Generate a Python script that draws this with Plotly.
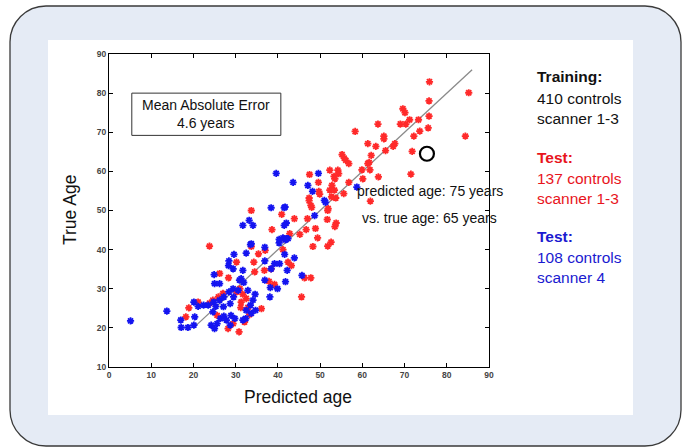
import plotly.graph_objects as go

# ---------------- data ----------------
red_x = [75.9, 85.2, 75.8, 69.6, 70.1, 71.2, 73.3, 75.8, 69.0, 70.3, 73.6, 75.6, 72.2, 84.4, 71.8,
         63.7, 58.3, 65.1, 65.1, 61.3, 63.2, 67.3, 67.7, 65.5, 62.1, 61.6, 61.3, 59.9, 61.8, 63.8,
         60.1, 55.2, 55.7, 56.1, 56.8, 52.3, 54.2, 54.4, 53.3, 53.5, 56.8, 52.8, 52.3, 53.4, 55.6,
         53.7, 47.5, 49.6, 49.9, 47.4, 47.8, 51.9, 61.9, 71.5, 33.7, 49.7, 52.7,
         40.9, 48.0, 51.8, 47.4, 38.6, 43.9, 47.0, 46.7, 48.9, 53.8, 53.5, 51.7, 45.2, 42.8, 41.5,
         48.3, 51.8, 52.6, 49.4, 41.2, 23.8, 33.7, 35.4, 37.0, 30.2, 34.3, 36.8, 38.4, 34.5, 42.4,
         43.2, 26.2, 28.3, 37.9, 39.2, 46.3, 47.8, 45.6, 31.0, 30.2, 31.7, 32.5, 31.3, 24.6, 25.9,
         27.0, 21.1, 18.9, 18.2, 31.2, 32.9, 36.1, 33.3, 32.1, 29.4, 28.2, 30.8, 25.6, 23.8]
red_y = [82.9, 80.1, 78.0, 76.0, 75.0, 73.2, 73.2, 74.1, 72.1, 72.1, 70.3, 71.1, 69.0, 69.0, 65.1,
         72.1, 70.2, 69.0, 68.3, 67.1, 66.4, 66.4, 67.1, 65.3, 64.1, 62.3, 62.0, 60.4, 60.4, 58.6,
         58.1, 64.3, 63.4, 62.8, 62.0, 60.3, 60.3, 59.4, 58.7, 58.1, 57.2, 56.4, 55.2, 55.2, 54.3,
         53.2, 59.2, 57.2, 54.2, 53.2, 51.3, 50.5, 52.4, 59.3, 50.0, 54.9, 53.5,
         49.0, 50.8, 50.0, 52.5, 45.1, 47.9, 47.9, 45.1, 45.4, 46.8, 45.9, 47.7, 43.9, 44.1, 42.8,
         40.8, 40.9, 41.9, 43.0, 40.0, 40.9, 40.8, 38.9, 39.8, 36.8, 36.8, 34.7, 35.1, 34.3, 36.8,
         35.9, 33.9, 32.8, 31.9, 31.1, 32.8, 32.8, 27.9, 30.0, 29.2, 28.6, 27.5, 26.6, 27.1, 27.9,
         28.8, 26.6, 25.1, 22.8, 25.2, 25.2, 24.9, 23.4, 21.5, 21.1, 19.8, 19.0, 23.2, 26.3]

blue_x = [39.6, 49.6, 43.6, 47.1, 48.2, 51.0, 58.7, 38.4, 41.7,
          5.1, 13.7, 17.0, 17.1, 18.7, 20.1, 20.3, 20.1, 21.1, 22.4, 23.5, 24.8, 25.3, 24.6, 24.2,
          25.0, 25.6, 26.4, 27.2, 27.8, 28.9, 29.8, 28.7, 26.2, 27.1, 28.7, 27.2, 28.4, 29.4, 30.6,
          29.5, 25.0, 26.2, 24.9, 28.3, 28.4, 29.4, 29.6, 31.7, 30.9, 31.9, 31.3, 32.5, 33.5, 33.7,
          31.7, 33.2, 34.1, 32.9, 34.1, 34.6, 33.5, 32.5, 33.7, 32.4, 31.7, 34.7, 38.1, 36.9, 36.9,
          38.2, 39.9, 38.4, 39.2, 40.4, 40.3, 41.8, 42.0, 41.5, 41.5, 41.6, 42.2, 41.8, 42.4, 43.9,
          45.7, 48.7, 51.3, 36.9, 40.3, 41.2, 42.0]
blue_y = [59.5, 59.5, 57.2, 56.4, 54.9, 52.6, 56.0, 50.7, 50.9,
          21.8, 24.3, 22.0, 20.1, 20.1, 20.7, 22.8, 26.6, 25.5, 25.8, 25.8, 26.6, 25.5, 24.1, 20.7,
          19.8, 21.1, 22.4, 23.0, 22.0, 23.2, 22.4, 20.7, 27.1, 25.4, 26.2, 27.9, 29.2, 30.0, 29.6,
          27.9, 31.3, 31.3, 33.6, 35.9, 37.1, 35.1, 38.8, 34.7, 32.2, 31.6, 32.6, 39.1, 41.3, 41.5,
          46.2, 47.5, 46.2, 29.6, 27.1, 28.6, 25.8, 24.5, 23.7, 22.4, 22.0, 24.5, 27.9, 32.2, 37.1,
          30.3, 30.0, 35.1, 36.4, 36.4, 41.7, 42.5, 46.8, 46.2, 50.7, 38.8, 34.7, 31.8, 42.8, 37.9,
          33.4, 48.7, 52.1, 40.6, 42.6, 43.0, 42.8]

fit_x = [20, 86]
fit_y = [20, 86]

example_x = [75.3]
example_y = [64.5]

x_ticks = [0, 10, 20, 30, 40, 50, 60, 70, 80, 90]
y_ticks = [10, 20, 30, 40, 50, 60, 70, 80, 90]

# ---------------- layout helpers ----------------
W, H = 685, 448
ML, MR, MT, MB = 109, 196, 54, 81
PW, PH = W - ML - MR, H - MT - MB


def px(x):
    return (x - ML) / PW


def py(y):
    return (H - MB - y) / PH


def rounded_rect(x0, y0, x1, y1, r):
    k = 0.5523 * r

    def P(a, b):
        return f"{px(a):.5f},{py(b):.5f}"
    return (f"M {P(x0 + r, y0)} L {P(x1 - r, y0)} "
            f"C {P(x1 - r + k, y0)} {P(x1, y0 + r - k)} {P(x1, y0 + r)} "
            f"L {P(x1, y1 - r)} "
            f"C {P(x1, y1 - r + k)} {P(x1 - r + k, y1)} {P(x1 - r, y1)} "
            f"L {P(x0 + r, y1)} "
            f"C {P(x0 + r - k, y1)} {P(x0, y1 - r + k)} {P(x0, y1 - r)} "
            f"L {P(x0, y0 + r)} "
            f"C {P(x0, y0 + r - k)} {P(x0 + r - k, y0)} {P(x0 + r, y0)} Z")


fig = go.Figure()

fig.add_trace(go.Scatter(x=fit_x, y=fit_y, mode="lines",
                         line=dict(color="#8a8a8a", width=1.3), showlegend=False))
fig.add_trace(go.Scatter(x=red_x, y=red_y, mode="markers",
                         marker=dict(symbol="asterisk-open", size=6, color="#ff2a2a",
                                     line=dict(color="#ff2a2a", width=1.8)),
                         showlegend=False))
fig.add_trace(go.Scatter(x=blue_x, y=blue_y, mode="markers",
                         marker=dict(symbol="asterisk-open", size=6, color="#1414f0",
                                     line=dict(color="#1414f0", width=1.8)),
                         showlegend=False))
fig.add_trace(go.Scatter(x=example_x, y=example_y, mode="markers",
                         marker=dict(symbol="circle-open", size=14, color="black",
                                     line=dict(color="black", width=2.2)),
                         showlegend=False))

shapes = [
    dict(type="path", path=rounded_rect(10, 6, 681, 446, 36), xref="paper", yref="paper",
         fillcolor="#e5ebf5", line=dict(color="#3a3a3a", width=1.3), layer="below"),
    dict(type="rect", x0=px(48), x1=px(633), y0=py(415), y1=py(40), xref="paper", yref="paper",
         fillcolor="white", line=dict(width=0), layer="below"),
    dict(type="rect", x0=5.4, x1=40.7, y0=69.2, y1=80.0, xref="x", yref="y",
         fillcolor="white", line=dict(color="#333", width=1)),
]

font = "Arial, Liberation Sans, sans-serif"


def A(**kw):
    d = dict(showarrow=False, xanchor="center", yanchor="middle")
    d.update(kw)
    return d


ann = [
    A(x=23.05, y=74.6, xref="x", yref="y", text="Mean Absolute Error<br>4.6 years",
      font=dict(family=font, size=14, color="#111"), align="center"),
    A(x=58.2, y=55.1, xref="x", yref="y", text="predicted age: 75 years", xanchor="left",
      font=dict(family=font, size=14, color="#111")),
    A(x=59.4, y=48.0, xref="x", yref="y", text="vs. true age: 65 years", xanchor="left",
      font=dict(family=font, size=14, color="#111")),
    A(x=px(298), y=py(397), xref="paper", yref="paper", text="Predicted age",
      font=dict(family=font, size=17.5, color="#111")),
    A(x=px(70), y=py(210), xref="paper", yref="paper", text="True Age", textangle=-90,
      font=dict(family=font, size=17.5, color="#111")),
]

legend_lines = [
    ("<b>Training:</b>", 77, "#111111"),
    ("410 controls", 98, "#111111"),
    ("scanner 1-3", 118, "#111111"),
    ("<b>Test:</b>", 157, "#e8141c"),
    ("137 controls", 178, "#e8141c"),
    ("scanner 1-3", 198, "#e8141c"),
    ("<b>Test:</b>", 237, "#1a1ad0"),
    ("108 controls", 257, "#1a1ad0"),
    ("scanner 4", 277, "#1a1ad0"),
]
for t, yy, c in legend_lines:
    ann.append(A(x=px(535), y=py(yy), xref="paper", yref="paper", text=t, xanchor="left",
                 font=dict(family=font, size=15.5, color=c)))

axis_common = dict(showline=True, linecolor="black", linewidth=1.3, mirror="ticks",
                   ticks="inside", ticklen=4, tickcolor="black", tickwidth=1,
                   showgrid=False, zeroline=False,
                   tickfont=dict(family="Liberation Sans Narrow, Arial Narrow, Arial", size=8.5,
                                 color="#444", weight="bold"))

fig.update_layout(
    width=W, height=H,
    margin=dict(l=ML, r=MR, t=MT, b=MB, pad=0),
    paper_bgcolor="white", plot_bgcolor="white",
    xaxis=dict(range=[0, 90], tickvals=x_ticks, ticktext=[str(v) for v in x_ticks], **axis_common),
    yaxis=dict(range=[10, 90], tickvals=y_ticks, ticktext=[str(v) for v in y_ticks], **axis_common),
    shapes=shapes, annotations=ann, showlegend=False,
)

fig.write_html("out.html")
